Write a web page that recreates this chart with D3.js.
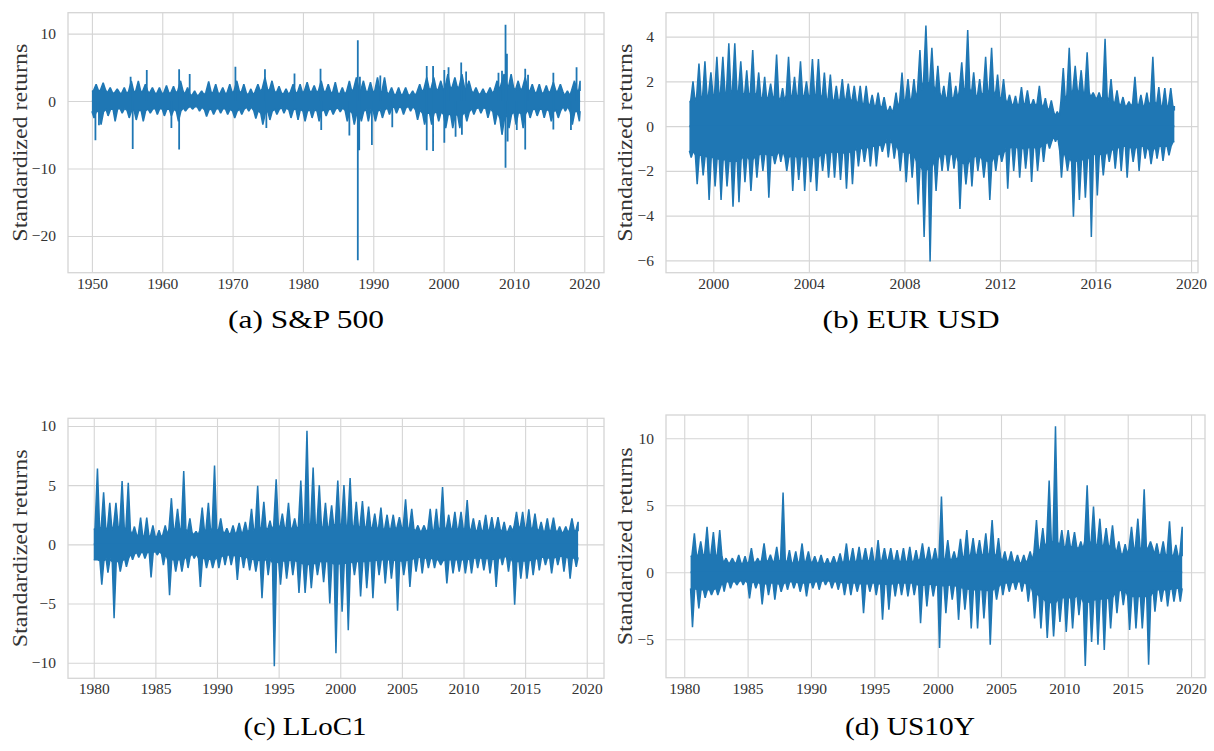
<!DOCTYPE html>
<html>
<head>
<meta charset="utf-8">
<script src="https://cdn.jsdelivr.net/npm/d3@7"></script>
<style>
  body { margin: 0; background: #fff; }
  svg text { font-family: "Liberation Serif", "DejaVu Serif", serif; }
</style>
</head>
<body>
<svg id="fig" width="1214" height="751"></svg>
<script>
// Values. For each sampling interval:
//   hi / lo  = the extreme standardized returns reached in that interval
//   core     = half-width of the solid (densely overplotted) band in that interval

// ---- (a) S&P 500 : one sample per year
const spYears = d3.range(1950, 2020);
const spHi = [2.5, 2.7, 2.0, 1.8, 2.0, 3.0, 3.0, 2.5, 2.0, 2.0,
              2.3, 2.2, 3.0, 2.0, 1.5, 1.5, 2.9, 2.5, 2.0, 2.5,
              3.0, 2.5, 1.8, 2.5, 3.5, 3.0, 2.2, 1.8, 2.5, 2.5,
              2.8, 2.3, 3.0, 2.5, 2.8, 2.0, 3.0, 3.5, 3.0, 2.8,
              3.5, 3.5, 2.0, 2.0, 2.0, 1.5, 2.5, 3.5, 3.5, 3.0,
              4.0, 3.5, 4.0, 3.0, 2.0, 1.8, 2.0, 3.0, 4.0, 4.0,
              3.0, 3.5, 2.5, 2.5, 2.3, 2.8, 2.5, 1.5, 3.0, 3.0];
const spLo = [-2.5, -3.5, -2.2, -3.0, -1.8, -2.5, -2.8, -3.0, -1.8, -2.0,
              -2.2, -2.2, -3.0, -1.5, -1.2, -1.5, -2.3, -2.0, -1.8, -2.0,
              -2.5, -2.0, -1.5, -2.6, -3.5, -2.8, -2.0, -1.8, -2.5, -2.8,
              -3.0, -2.5, -3.0, -2.2, -2.0, -1.6, -3.0, -3.5, -3.0, -3.0,
              -3.0, -2.5, -2.0, -1.8, -2.0, -1.5, -2.8, -3.5, -3.5, -3.0,
              -4.0, -4.0, -4.0, -3.0, -2.0, -1.8, -2.5, -3.5, -5.0, -4.0,
              -3.5, -4.0, -2.5, -2.2, -2.5, -3.0, -2.5, -1.5, -3.5, -3.0];
const spCore = [1.5, 1.6, 1.2, 1.2, 1.1, 1.4, 1.4, 1.4, 1.2, 1.1,
                1.2, 1.2, 1.5, 1.0, 0.8, 0.9, 1.3, 1.2, 1.1, 1.2,
                1.5, 1.2, 0.9, 1.4, 1.8, 1.5, 1.2, 1.0, 1.3, 1.2,
                1.5, 1.3, 1.5, 1.3, 1.2, 1.0, 1.4, 1.8, 1.5, 1.3,
                1.5, 1.3, 1.0, 0.9, 1.0, 0.8, 1.3, 1.8, 1.8, 1.6,
                2.0, 2.0, 2.1, 1.6, 1.1, 1.0, 1.1, 1.6, 2.6, 2.0,
                1.6, 1.9, 1.3, 1.2, 1.2, 1.5, 1.4, 0.8, 1.6, 1.5];
// isolated large moves [year, value]
const spSpikes = [[1950.5, -5.8], [1951.0, -3.6], [1955.5, 3.6], [1955.8, -7.1], [1957.8, 4.6],
                  [1961.3, -4.0], [1962.4, 4.7], [1962.4, -7.2], [1963.9, 4.0], [1970.4, 5.1],
                  [1974.6, 4.7], [1974.8, -4.0], [1978.8, 4.1], [1982.5, 4.8], [1982.6, -4.3],
                  [1986.6, -5.1], [1987.8, 9.0], [1987.8, -23.6], [1988.0, -7.3], [1988.1, 3.6],
                  [1989.8, -6.5], [1991.0, 3.8], [1992.7, -3.9], [1997.6, 5.2], [1997.6, -7.3],
                  [1998.5, 5.2], [1998.5, -7.4], [2000.1, 4.6], [2000.1, -6.2], [2000.7, 5.0],
                  [2001.7, -5.3], [2002.5, 5.7], [2002.6, -5.0], [2003.2, 4.4], [2007.8, 4.2],
                  [2008.3, 4.5], [2008.8, 11.3], [2008.8, -9.9], [2009.0, 7.0], [2009.1, -6.0],
                  [2010.4, -4.3], [2011.6, 4.8], [2011.6, -7.2], [2012.0, 3.9], [2015.6, 4.2],
                  [2015.6, -4.2], [2018.1, -4.3], [2018.9, 5.0]];

// ---- (b) EUR USD : one sample per quarter
const eurQuarters = d3.range(1999, 2019.26, 0.25);
const eurHi = [2.0, 2.8, 2.9, 2.4, 3.1, 3.1, 3.7, 3.7, 2.9, 2.5, 3.4, 2.4, 2.2, 1.9, 3.2, 1.7,
               3.1, 2.2, 2.9, 2.0, 3.0, 3.0, 2.4, 2.3, 1.8, 2.1, 1.9, 1.8, 1.8, 1.8, 1.4, 1.5,
               1.3, 0.9, 1.5, 2.4, 2.1, 2.1, 3.4, 4.5, 3.5, 2.7, 1.8, 2.4, 1.8, 2.85, 4.3, 2.4,
               2.1, 3.1, 3.5, 2.3, 2.1, 1.4, 1.35, 1.75, 1.6, 1.2, 1.8, 1.25, 1.15, 0.65, 2.6, 3.5,
               2.7, 2.5, 3.3, 1.5, 1.5, 3.9, 2.1, 1.6, 1.3, 1.1, 2.2, 1.4, 1.5, 3.1, 1.75, 1.7,
               1.7, 0.9];
const eurLo = [-1.4, -2.6, -2.2, -3.3, -2.7, -3.3, -2.7, -3.6, -3.4, -2.5, -2.9, -2.3, -2.0, -3.2, -1.7, -1.6,
               -2.0, -2.9, -2.4, -2.9, -2.5, -2.9, -2.0, -2.3, -2.3, -2.4, -2.8, -2.6, -1.8, -1.6, -1.8, -1.8,
               -1.15, -1.4, -1.45, -2.0, -2.5, -2.3, -3.5, -4.95, -6.05, -2.9, -2.0, -2.0, -1.9, -3.7, -2.6, -2.7,
               -2.0, -2.3, -3.3, -2.0, -1.6, -2.8, -2.0, -2.3, -1.9, -2.5, -2.0, -1.6, -1.0, -0.7, -2.3, -2.0,
               -4.05, -3.3, -3.2, -4.95, -3.1, -2.2, -1.6, -1.9, -2.0, -2.3, -1.6, -2.0, -1.45, -1.7, -1.45, -1.55,
               -1.3, -0.7];
const eurCore = [1.1, 1.3, 1.3, 1.4, 1.4, 1.5, 1.5, 1.6, 1.5, 1.3, 1.5, 1.3, 1.2, 1.3, 1.3, 1.1,
                 1.4, 1.3, 1.4, 1.3, 1.4, 1.4, 1.2, 1.2, 1.1, 1.2, 1.2, 1.1, 1.0, 1.0, 0.9, 0.9,
                 0.8, 0.6, 0.8, 1.1, 1.2, 1.2, 1.6, 2.0, 1.8, 1.5, 1.2, 1.3, 1.2, 1.6, 1.7, 1.4,
                 1.3, 1.5, 1.6, 1.3, 1.2, 1.0, 0.9, 1.0, 1.0, 0.9, 1.0, 0.8, 0.7, 0.45, 1.1, 1.4,
                 1.6, 1.5, 1.5, 1.3, 1.2, 1.3, 1.1, 1.0, 0.9, 0.9, 1.0, 0.9, 0.9, 1.1, 0.9, 0.9,
                 0.9, 0.7];
const eurSpikes = [];

// ---- (c) LLoC1 : one sample per half year
const llocHalves = d3.range(1980, 2019.01, 0.5);
const llocHi = [6.4, 4.4, 3.5, 3.5, 5.35, 5.2, 1.5, 2.25, 2.25, 1.6, 1.2, 1.6, 3.9, 3.0, 6.2, 2.2,
                1.1, 3.1, 3.5, 6.65, 2.2, 1.35, 1.6, 1.8, 1.9, 3.0, 4.95, 3.6, 2.0, 5.5, 2.6, 3.5,
                2.2, 5.4, 9.6, 6.5, 5.0, 3.5, 3.3, 5.4,
                5.0, 5.6, 3.6, 3.65, 3.2, 2.6, 3.1, 2.5, 2.5, 2.3, 3.8, 3.0, 1.6, 1.6, 3.0, 3.0,
                4.85, 2.5, 2.75, 2.75, 3.75, 2.2, 2.05, 2.5, 2.3, 2.3, 1.9, 1.6, 2.75, 2.75, 2.95, 2.6,
                1.9, 2.2, 2.25, 1.5, 1.5, 2.2, 1.9];
const llocLo = [-1.3, -3.4, -2.4, -6.25, -2.3, -1.9, -1.3, -1.1, -1.2, -2.8, -0.9, -1.75, -4.3, -2.3, -2.3, -2.0,
                -1.2, -3.6, -2.0, -2.0, -2.0, -1.75, -1.75, -3.0, -2.0, -2.2, -2.3, -4.55, -2.6, -10.3, -3.4, -2.9,
                -2.6, -4.1, -4.1, -3.7, -2.6, -3.2, -5.0, -9.2,
                -5.7, -7.25, -2.6, -4.4, -3.7, -4.55, -2.6, -3.3, -2.9, -5.6, -2.6, -3.6, -2.3, -2.45, -2.0, -2.0,
                -1.75, -3.3, -2.45, -2.3, -2.45, -2.45, -2.0, -2.2, -2.45, -3.6, -1.75, -2.3, -5.1, -2.9, -2.9, -2.6,
                -2.2, -1.75, -2.45, -1.75, -2.3, -2.9, -1.9];
const llocCore = [1.3, 1.4, 1.2, 1.5, 1.4, 1.2, 0.8, 0.7, 0.7, 0.7, 0.6, 0.8, 1.3, 1.3, 1.3, 1.0,
                  0.8, 1.2, 1.2, 1.3, 1.1, 0.9, 0.9, 1.0, 1.0, 1.2, 1.3, 1.4, 1.2, 1.6, 1.4, 1.4,
                  1.3, 1.5, 1.7, 1.7, 1.5, 1.4, 1.5, 1.7,
                  1.6, 1.6, 1.4, 1.5, 1.4, 1.4, 1.3, 1.3, 1.3, 1.4, 1.4, 1.3, 1.1, 1.1, 1.2, 1.2,
                  1.4, 1.3, 1.3, 1.3, 1.3, 1.2, 1.1, 1.2, 1.2, 1.3, 1.0, 1.1, 1.5, 1.4, 1.4, 1.3,
                  1.1, 1.1, 1.2, 1.0, 1.0, 1.2, 1.1];
const llocSpikes = [];

// ---- (d) US10Y : one sample per half year
const usHalves = d3.range(1980.5, 2019.01, 0.5);
const usHi = [2.9, 2.3, 3.4, 3.0, 3.15, 1.05, 1.05, 1.3, 1.2, 1.8, 1.05, 2.15, 1.3, 1.9, 5.95, 1.65,
              1.55, 2.15, 1.55, 1.2, 1.3, 1.05, 1.2, 1.4, 2.15, 1.8, 1.9, 1.8, 1.85, 2.4, 1.8, 1.8,
              1.65, 1.8, 1.9, 1.65, 2.15, 1.9, 1.8,
              5.65, 2.4, 1.55, 2.5, 3.15, 2.55, 2.4, 2.9, 3.9, 2.55, 1.55, 1.55, 1.3, 1.3, 1.55, 3.9,
              3.3, 6.85, 10.9, 3.15, 3.15, 3.0, 2.3, 6.5, 4.9, 4.0, 3.3, 3.5, 2.3, 2.1, 3.4, 4.0,
              6.2, 2.3, 2.15, 2.3, 3.8, 2.05, 3.4];
const usLo = [-4.1, -2.7, -1.9, -1.7, -1.7, -1.45, -1.2, -0.95, -0.95, -1.95, -1.2, -2.4, -1.7, -2.05, -1.45, -1.3,
              -1.2, -1.45, -1.8, -1.2, -1.3, -0.95, -1.2, -1.3, -1.7, -1.7, -1.45, -3.05, -1.45, -1.7, -3.55, -2.8,
              -1.8, -1.7, -1.8, -1.7, -3.8, -2.55, -1.8,
              -5.65, -3.05, -2.05, -3.55, -2.8, -4.2, -4.2, -3.45, -5.4, -2.05, -1.7, -1.45, -1.3, -1.45, -2.2, -3.45,
              -4.2, -4.9, -4.8, -3.7, -4.45, -4.2, -3.2, -7.0, -5.2, -5.4, -5.8, -4.2, -3.05, -2.45, -4.3, -4.2,
              -4.2, -6.9, -2.95, -2.2, -2.55, -2.2, -2.2];
const usCore = [1.2, 1.3, 1.3, 1.3, 1.2, 0.7, 0.7, 0.7, 0.6, 0.8, 0.7, 0.9, 0.8, 0.8, 0.9, 0.7,
                0.7, 0.8, 0.8, 0.7, 0.7, 0.6, 0.7, 0.7, 0.8, 0.8, 0.8, 0.9, 0.8, 0.8, 0.9, 0.9,
                0.8, 0.8, 0.8, 0.8, 1.0, 0.9, 0.9,
                1.0, 1.0, 0.9, 1.1, 1.2, 1.3, 1.3, 1.3, 1.4, 1.1, 0.8, 0.8, 0.7, 0.7, 0.9, 1.5,
                1.8, 2.2, 2.3, 1.9, 1.9, 1.9, 1.7, 2.3, 2.1, 2.0, 2.0, 1.9, 1.4, 1.3, 1.8, 1.8,
                1.8, 1.8, 1.3, 1.3, 1.3, 1.2, 1.2];
const usSpikes = [];

const blue = "#1f77b4";
const svg = d3.select("#fig");

function drawPanel(p, id) {
  let w = p.right - p.left, h = p.bottom - p.top;
  let x = d3.scaleLinear().domain(p.xDomain).range([p.left, p.right]);
  let y = d3.scaleLinear().domain(p.yDomain).range([p.bottom, p.top]);

  svg.append("clipPath").attr("id", "clip" + id)
    .append("rect").attr("x", p.left).attr("y", p.top).attr("width", w).attr("height", h);

  // grid + tick labels
  let gx = svg.append("g")
      .attr("transform", "translate(0," + p.bottom + ")")
      .call(d3.axisBottom(x).tickValues(p.xTicks).tickSize(-h).tickPadding(5).tickFormat(d3.format("d")));
  let gy = svg.append("g")
      .attr("transform", "translate(" + p.left + ",0)")
      .call(d3.axisLeft(y).tickValues(p.yTicks).tickSize(-w).tickPadding(12));
  [gx, gy].forEach(a => {
    a.select(".domain").remove();
    a.selectAll(".tick line").attr("stroke", "#d5d5d5").attr("stroke-width", 1.1);
    a.selectAll(".tick text")
      .attr("fill", "#333")
      .style("font-size", "15.5px")
      .style("font-family", '"Liberation Serif", "DejaVu Serif", serif');
  });

  let marks = svg.append("g").attr("clip-path", "url(#clip" + id + ")");
  let line = d3.line().x(d => x(d[0])).y(d => y(d[1]));
  // upper half fills down a pixel past zero, lower half up a pixel, so no seam shows
  let areaUp = d3.area().x(d => x(d[0])).y0(y(0) + 1).y1(d => y(d[1]));
  let areaDown = d3.area().x(d => x(d[0])).y0(y(0) - 1).y1(d => y(d[1]));

  // outline of the overplotted series: each interval's extreme rises out of the
  // solid band as a narrow spike (upper and lower halves slightly out of phase)
  let cap = t => Math.min(t, p.end);
  let up = [[p.times[0], p.core[0]]], down = [];
  p.times.forEach((t, i) => {
    let s = p.step, c = p.core[i];
    up.push([cap(t + 0.2 * s), c], [cap(t + 0.6 * s), p.hi[i]], [cap(t + 0.95 * s), c]);
    down.push([cap(t), -c], [cap(t + 0.3 * s), p.lo[i]], [cap(t + 0.65 * s), -c]);
  });
  let last = p.core.length - 1;
  up.push([p.end, p.core[last]]);
  down.push([p.end, -p.core[last]]);

  [[up, areaUp], [down, areaDown]].forEach(([pts, area]) => {
    marks.append("path")
        .attr("d", area(pts))
        .attr("fill", blue);
    marks.append("path")
        .attr("d", line(pts))
        .attr("fill", "none")
        .attr("stroke", blue)
        .attr("stroke-width", 1.5)
        .attr("stroke-linejoin", "bevel");
  });

  // isolated large moves
  if (p.spikes.length) {
    marks.append("path")
        .attr("d", p.spikes.map(s => line([[s[0], 0], [s[0], s[1]]])).join(""))
        .attr("fill", "none")
        .attr("stroke", blue)
        .attr("stroke-width", 1.8);
  }

  // frame
  svg.append("rect")
      .attr("x", p.left).attr("y", p.top).attr("width", w).attr("height", h)
      .attr("fill", "none").attr("stroke", "#d5d5d5").attr("stroke-width", 1.3);

  // y label
  svg.append("text")
      .attr("transform", "translate(" + p.ylabX + "," + (p.top + h / 2) + ") rotate(-90)")
      .attr("text-anchor", "middle")
      .attr("dominant-baseline", "central")
      .attr("fill", "#333")
      .attr("textLength", 198)
      .attr("lengthAdjust", "spacingAndGlyphs")
      .style("font-size", "21px")
      .text("Standardized returns");

  // caption
  svg.append("text")
      .attr("x", p.capX).attr("y", p.capY)
      .attr("text-anchor", "middle")
      .attr("fill", "#000")
      .attr("textLength", p.capW)
      .attr("lengthAdjust", "spacingAndGlyphs")
      .style("font-size", "26px")
      .text(p.caption);
}

drawPanel({
  left: 68, right: 604, top: 12.7, bottom: 272.7,
  xDomain: [1946.6, 2022.8], yDomain: [-25.45, 13.1],
  xTicks: d3.range(1950, 2021, 10), yTicks: [-20, -10, 0, 10],
  times: spYears, step: 1, end: 2019.4, hi: spHi, lo: spLo, core: spCore, spikes: spSpikes,
  ylabX: 19.5, caption: "(a) S&P 500", capX: 306, capY: 328, capW: 156
}, "a");

drawPanel({
  left: 666, right: 1198, top: 12.7, bottom: 272.7,
  xDomain: [1998.02, 2020.29], yDomain: [-6.55, 5.07],
  xTicks: d3.range(2000, 2021, 4), yTicks: [-6, -4, -2, 0, 2, 4],
  times: eurQuarters, step: 0.25, end: 2019.3, hi: eurHi, lo: eurLo, core: eurCore, spikes: eurSpikes,
  ylabX: 624.5, caption: "(b) EUR USD", capX: 911, capY: 328, capW: 177
}, "b");

drawPanel({
  left: 68, right: 604, top: 418.3, bottom: 678.3,
  xDomain: [1977.91, 2021.4], yDomain: [-11.32, 10.65],
  xTicks: d3.range(1980, 2021, 5), yTicks: [-10, -5, 0, 5, 10],
  times: llocHalves, step: 0.5, end: 2019.3, hi: llocHi, lo: llocLo, core: llocCore, spikes: llocSpikes,
  ylabX: 19.5, caption: "(c) LLoC1", capX: 305, capY: 735, capW: 123
}, "c");

drawPanel({
  left: 666, right: 1205, top: 415, bottom: 677.7,
  xDomain: [1978.56, 2021.1], yDomain: [-7.87, 11.74],
  xTicks: d3.range(1980, 2021, 5), yTicks: [-5, 0, 5, 10],
  times: usHalves, step: 0.5, end: 2019.3, hi: usHi, lo: usLo, core: usCore, spikes: usSpikes,
  ylabX: 624.5, caption: "(d) US10Y", capX: 910, capY: 735, capW: 130
}, "d");
</script>
</body>
</html>
